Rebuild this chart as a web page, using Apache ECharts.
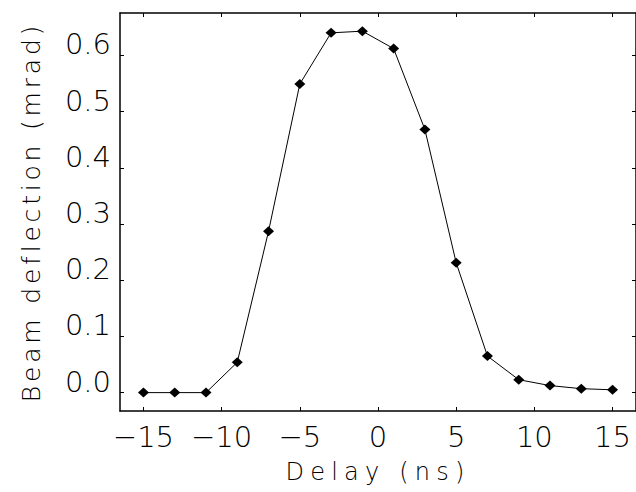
<!DOCTYPE html>
<html>
<head>
<meta charset="utf-8">
<script src="https://cdn.jsdelivr.net/npm/echarts@6/dist/echarts.min.js"></script>
<style>
html,body{margin:0;padding:0;background:#fff;}
#c{width:636px;height:492px;}
</style>
</head>
<body>
<div id="c"></div>
<script>
const delays = [-15, -13, -11, -9, -7, -5, -3, -1, 1, 3, 5, 7, 9, 11, 13, 15];
const deflection = [0.0, 0.0, 0.0, 0.054, 0.287, 0.549, 0.640, 0.643, 0.612, 0.468, 0.231, 0.065, 0.023, 0.0125, 0.007, 0.005];
const xTicks = [-15, -10, -5, 0, 5, 10, 15];
const yTicks = [0.0, 0.1, 0.2, 0.3, 0.4, 0.5, 0.6];
const xName = 'Delay (ns)';
const yName = 'Beam deflection (mrad)';

const FONT = 'DejaVu Sans';
const TXT = '#000';
const lineStyle = {color: '#000', width: 1.5};

const chart = echarts.init(document.getElementById('c'), null, {renderer: 'svg'});
const points = delays.map((d, i) => [d, deflection[i]]);

chart.setOption({
  animation: false,
  backgroundColor: '#fff',
  grid: {left: 120, top: 13, width: 517, height: 398, containLabel: false},
  xAxis: [{
    type: 'value', position: 'bottom', min: -16.5, max: 16.5,
    name: xName, nameLocation: 'middle', nameGap: 49,
    nameTextStyle: {fontFamily: FONT, fontWeight: 200, fontSize: 24, color: TXT},
    axisLine: {show: true, onZero: false, lineStyle: lineStyle},
    axisTick: {show: true, inside: true, length: 4, customValues: xTicks, lineStyle: {color: '#000', width: 1}},
    axisLabel: {show: true, customValues: xTicks, margin: 11, fontFamily: FONT, fontWeight: 200, fontSize: 29, color: TXT,
      formatter: v => (v < 0 ? '\u2212' + Math.abs(v) : String(v))},
    splitLine: {show: false}
  }, {
    type: 'value', position: 'top', min: -16.5, max: 16.5,
    axisLine: {show: true, onZero: false, lineStyle: lineStyle},
    axisTick: {show: true, inside: true, length: 4, customValues: xTicks, lineStyle: {color: '#000', width: 1}},
    axisLabel: {show: false},
    splitLine: {show: false}
  }],
  yAxis: [{
    type: 'value', position: 'left', min: -0.0327, max: 0.6753,
    name: yName, nameLocation: 'middle', nameGap: 76, nameRotate: 90,
    nameTextStyle: {fontFamily: FONT, fontWeight: 200, fontSize: 25, color: TXT},
    axisLine: {show: true, onZero: false, lineStyle: lineStyle},
    axisTick: {show: true, inside: true, length: 4, customValues: yTicks, lineStyle: {color: '#000', width: 1}},
    axisLabel: {show: true, customValues: yTicks, margin: 9, fontFamily: FONT, fontWeight: 200, fontSize: 29, color: TXT,
      verticalAlign: 'bottom', lineHeight: 22,
      formatter: v => v.toFixed(1)},
    splitLine: {show: false}
  }, {
    type: 'value', position: 'right', min: -0.0327, max: 0.6753,
    axisLine: {show: true, onZero: false, lineStyle: lineStyle},
    axisTick: {show: true, inside: true, length: 4, customValues: yTicks, lineStyle: {color: '#000', width: 1}},
    axisLabel: {show: false},
    splitLine: {show: false}
  }],
  series: [{
    type: 'line',
    data: points,
    xAxisIndex: 0, yAxisIndex: 0,
    symbol: 'diamond', symbolSize: [11, 10],
    itemStyle: {color: '#000'},
    lineStyle: {color: '#000', width: 1},
    silent: true
  }]
});

function spaceNames() {
  document.querySelectorAll('#c svg text').forEach(t => {
    const s = t.textContent;
    if (s === xName) t.style.letterSpacing = '6.2px';
    else if (s === yName) t.style.letterSpacing = '3.8px';
  });
}
chart.on('finished', spaceNames);
setTimeout(spaceNames, 50);
</script>
</body>
</html>
